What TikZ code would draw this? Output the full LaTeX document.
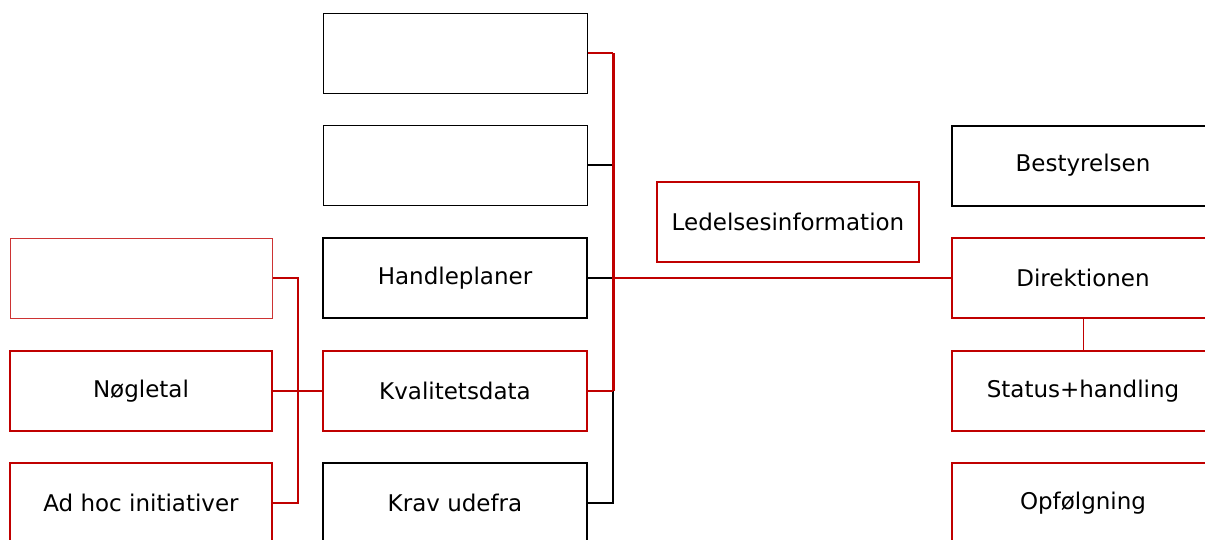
\documentclass[tikz,border=0pt]{standalone}
\usepackage{fontspec}
\setmainfont{DejaVu Sans}
\definecolor{boxred}{RGB}{192,0,0}
\begin{document}
\begin{tikzpicture}[x=1pt,y=-1pt,
  box/.style={draw,line width=2pt,minimum width=262pt,minimum height=80pt,inner sep=0pt,
    font=\fontsize{23}{27}\selectfont},
  redbox/.style={box,draw=boxred},
  thinbox/.style={box,line width=1pt},
  redlink/.style={draw=boxred,line width=2pt},
  blacklink/.style={draw=black,line width=2pt}]
\useasboundingbox (0,0) rectangle (1205,539);
\clip (0,0) rectangle (1205,539);
% left column
\node[thinbox,draw=boxred!80] (l1) at (141,278) {};
\node[redbox] (l2) at (141,391) {Nøgletal};
\node[redbox] (l3) at (141,503) {Ad hoc initiativer};
% middle column
\node[thinbox,minimum width=264pt] (m1) at (455,53) {};
\node[thinbox,minimum width=264pt] (m2) at (455,165) {};
\node[box,minimum width=264pt] (m3) at (455,278) {Handleplaner};
\node[redbox,minimum width=264pt] (m4) at (455,391) {Kvalitetsdata};
\node[box,minimum width=264pt] (m5) at (455,503) {Krav udefra};
% central label
\node[redbox] (li) at (788,221.5) {Ledelsesinformation};
% right column
\node[box] (r1) at (1083,165.5) {Bestyrelsen};
\node[redbox] (r2) at (1083,278) {Direktionen};
\node[redbox] (r3) at (1083,391) {Status+handling};
\node[redbox] (r4) at (1083,503) {Opfølgning};
% junction points
\coordinate (jt) at (613,53);
\coordinate (jk) at (613,391);
\coordinate (jb) at (613,503);
\coordinate (jh) at (613,278);
\coordinate (lt) at (298,278);
\coordinate (lb) at (298,503);
% middle bracket
\draw[blacklink] (m2.east) -- (m2.east -| jt);
\draw[blacklink] (m3.east) -- (jh);
\draw[blacklink] (jk) -- (jb) -- (m5.east);
\draw[redlink] (m1.east) -- (jt);
\draw[redlink] (m4.east) -- (jk);
\draw[draw=boxred,line width=3pt] (jt) -- (jk);
\draw[redlink] (jh) -- (r2.west);
% left bracket
\draw[redlink] (l1.east) -- (lt) -- (lb) -- (l3.east);
\draw[redlink] (l2.east) -- (m4.west);
% right column link
\draw[draw=boxred,line width=1pt] (r2.south) -- (r3.north);
\end{tikzpicture}
\end{document}
